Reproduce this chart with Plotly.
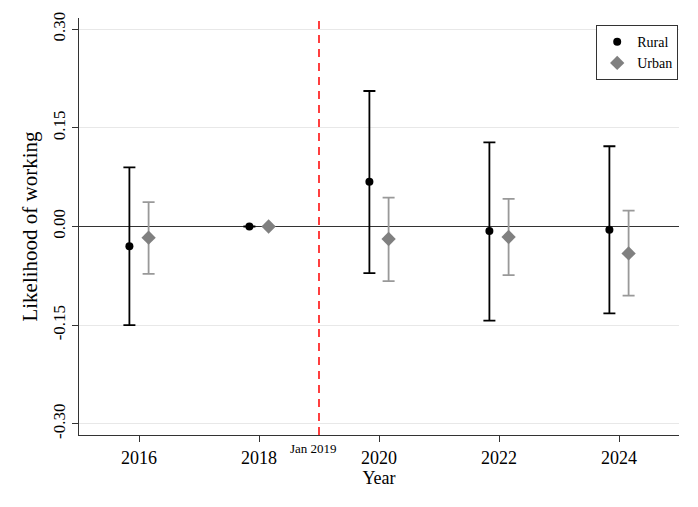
import plotly.graph_objects as go

years = [2016, 2018, 2020, 2022, 2024]
rural_est = [-0.030, 0.000, 0.068, -0.007, -0.005]
rural_lo = [-0.150, 0.000, -0.071, -0.143, -0.132]
rural_hi = [0.090, 0.000, 0.206, 0.128, 0.122]
urban_est = [-0.017, 0.000, -0.019, -0.016, -0.041]
urban_lo = [-0.072, 0.000, -0.083, -0.074, -0.105]
urban_hi = [0.037, 0.000, 0.044, 0.042, 0.024]
event_year = 2019
event_label = "Jan 2019"
y_ticks = [-0.30, -0.15, 0.00, 0.15, 0.30]

off = 0.16
FONT = "Liberation Serif"

fig = go.Figure()

fig.add_trace(go.Scatter(
    x=[y - off for y in years], y=rural_est, mode="markers", name="Rural",
    marker=dict(symbol="circle", size=8, color="black"),
    error_y=dict(type="data", symmetric=False,
                 array=[h - e for h, e in zip(rural_hi, rural_est)],
                 arrayminus=[e - l for e, l in zip(rural_est, rural_lo)],
                 color="black", thickness=1.8, width=6),
))
fig.add_trace(go.Scatter(
    x=[y + off for y in years], y=urban_est, mode="markers", name="Urban",
    marker=dict(symbol="diamond", size=11, color="#808080"),
    error_y=dict(type="data", symmetric=False,
                 array=[h - e for h, e in zip(urban_hi, urban_est)],
                 arrayminus=[e - l for e, l in zip(urban_est, urban_lo)],
                 color="#999999", thickness=1.8, width=6),
))

fig.add_shape(type="line", x0=event_year, x1=event_year, xref="x", y0=0, y1=1, yref="paper",
              line=dict(color="#ff1010", width=1.6, dash="8px,6px"), layer="above")
fig.add_annotation(x=event_year, y=0, xref="x", yref="paper", yanchor="top", yshift=-4, xshift=-6,
                   text=event_label, showarrow=False, font=dict(family=FONT, size=13, color="black"))

fig.update_layout(
    width=698, height=507,
    margin=dict(l=79, r=19, t=18, b=72),
    paper_bgcolor="white", plot_bgcolor="white",
    font=dict(family=FONT, color="black"),
    showlegend=True,
    legend=dict(x=0.862, y=0.983, xanchor="left", yanchor="top",
                bgcolor="white", bordercolor="#333333", borderwidth=1,
                font=dict(family=FONT, size=14), itemwidth=30, tracegroupgap=0),
    xaxis=dict(range=[2015, 2025], tickvals=years, ticktext=[str(y) for y in years],
               showgrid=False, zeroline=False, showline=True, linecolor="#333333", linewidth=1.3,
               ticks="outside", ticklen=6, tickcolor="#333333",
               tickfont=dict(size=18, family=FONT),
               title=dict(text="Year", font=dict(size=18, family=FONT), standoff=0)),
    yaxis=dict(range=[-0.317, 0.317], tickvals=y_ticks, ticktext=["-0.30", "-0.15", "0.00", "0.15", "0.30"],
               tickangle=-90, showgrid=True, gridcolor="#e8e8e8", gridwidth=1.2,
               zeroline=True, zerolinecolor="#333333", zerolinewidth=1.3,
               showline=True, linecolor="#333333", linewidth=1.3,
               ticks="outside", ticklen=6, tickcolor="#333333",
               tickfont=dict(size=17, family=FONT),
               title=dict(text="Likelihood of working", font=dict(size=21, family=FONT, color="black"), standoff=6)),
)

fig.write_html("out.html", config={"displayModeBar": False},
               post_script="document.body.style.margin='0';document.body.style.padding='0';")
